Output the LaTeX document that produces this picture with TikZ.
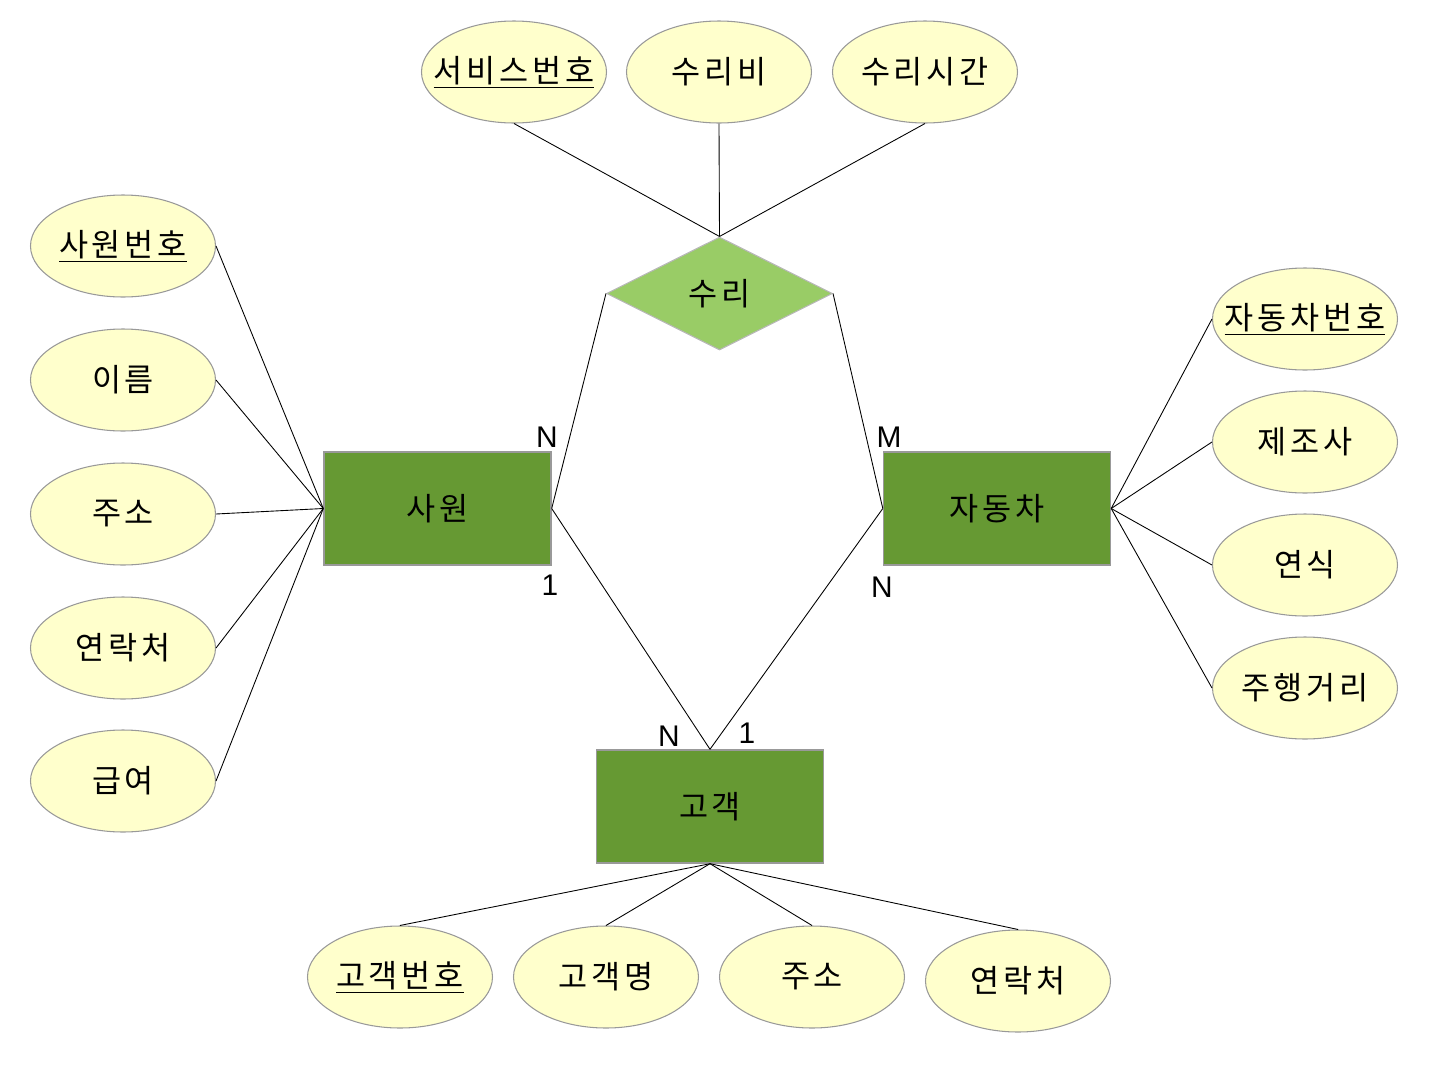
\documentclass[tikz,border=0pt]{standalone}
\usepackage{fontspec}
\setmainfont{Liberation Sans}
\newfontfamily\krfont[LetterSpace=12]{Noto Sans CJK KR}
\usetikzlibrary{shapes.geometric}
\newlength{\du}
\setlength{\du}{0.02cm}
\definecolor{attrfill}{rgb}{1.000000, 1.000000, 0.800000}
\definecolor{attrline}{rgb}{0.600000, 0.600000, 0.600000}
\definecolor{entityfill}{rgb}{0.400000, 0.600000, 0.200000}
\definecolor{relfill}{rgb}{0.600000, 0.800000, 0.400000}
\tikzset{
  attr/.style={ellipse, draw=attrline, fill=attrfill, line width=0.6pt,
    minimum width=185\du, minimum height=102\du, inner xsep=-40\du, inner ysep=0pt,
    font=\krfont\fontsize{18}{20}\selectfont},
  entity/.style={rectangle, draw=attrline, fill=entityfill, line width=0.8pt,
    minimum width=227\du, minimum height=113\du, inner sep=0pt,
    font=\krfont\fontsize{18}{20}\selectfont},
  rel/.style={diamond, draw=attrline!70, fill=relfill, line width=0.6pt,
    minimum width=226\du, minimum height=113\du, inner sep=0pt,
    font=\krfont\fontsize{18}{20}\selectfont},
  card/.style={font=\fontsize{17}{19}\selectfont, inner sep=0pt},
  link/.style={draw=black, line width=0.5pt}
}
\newcommand{\key}[1]{\underline{#1}}
\begin{document}
\begin{tikzpicture}[yscale=-1]
\useasboundingbox (0\du,0\du) rectangle (1438\du,1079\du);
% entities
\node[entity] (emp) at (437.5\du,508.5\du){사원};
\node[entity] (car) at (997\du,508.5\du){자동차};
\node[entity] (cust) at (710\du,806.5\du){고객};
% relationship
\node[rel] (repair) at (719.5\du,293.5\du){수리};
% attributes of 사원
\node[attr] (empno) at (123\du,246\du){\key{사원번호}};
\node[attr] (empname) at (123\du,380\du){이름};
\node[attr] (empaddr) at (123\du,514\du){주소};
\node[attr] (emptel) at (123\du,648\du){연락처};
\node[attr] (emppay) at (123\du,781\du){급여};
% attributes of 수리
\node[attr] (svcno) at (514\du,72\du){\key{서비스번호}};
\node[attr] (svccost) at (719\du,72\du){수리비};
\node[attr] (svctime) at (925\du,72\du){수리시간};
% attributes of 자동차
\node[attr] (carno) at (1305\du,319\du){\key{자동차번호}};
\node[attr] (carmaker) at (1305\du,442\du){제조사};
\node[attr] (caryear) at (1305\du,565\du){연식};
\node[attr] (carkm) at (1305\du,688\du){주행거리};
% attributes of 고객
\node[attr] (custno) at (400\du,977\du){\key{고객번호}};
\node[attr] (custname) at (606\du,977\du){고객명};
\node[attr] (custaddr) at (812\du,977\du){주소};
\node[attr] (custtel) at (1018\du,981\du){연락처};
% attribute links
\foreach \a in {empno,empname,empaddr,emptel,emppay}
  \draw[link] (\a.east)--(emp.west);
\foreach \a in {svcno,svccost,svctime}
  \draw[link] (\a.south)--(repair.north);
\foreach \a in {carno,carmaker,caryear,carkm}
  \draw[link] (\a.west)--(car.east);
\foreach \a in {custno,custname,custaddr,custtel}
  \draw[link] (\a.north)--(cust.south);
% relationship links
\draw[link] (repair.west)--(emp.east);
\draw[link] (repair.east)--(car.west);
\draw[link] (emp.east)--(cust.north);
\draw[link] (car.west)--(cust.north);
% cardinalities
\node[card] (c1) at (547\du,437\du){N};
\node[card] (c2) at (889\du,437\du){M};
\node[card] (c3) at (550\du,585\du){1};
\node[card] (c4) at (882\du,587\du){N};
\node[card] (c5) at (669\du,736\du){N};
\node[card] (c6) at (747\du,733\du){1};
\end{tikzpicture}
\end{document}
